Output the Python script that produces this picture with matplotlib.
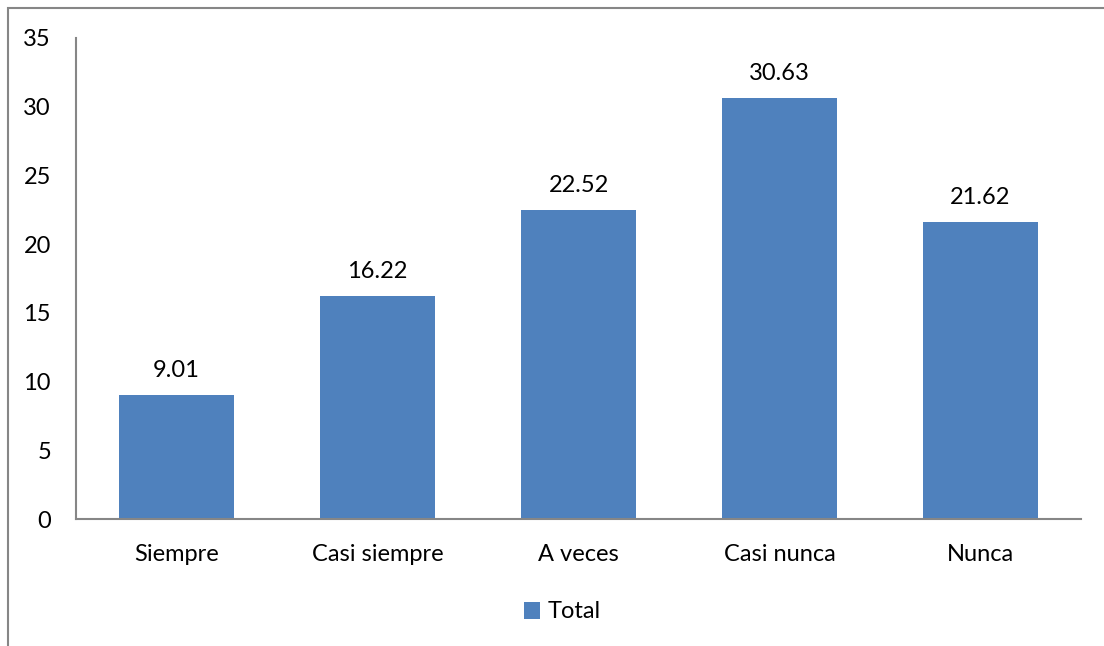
import matplotlib
matplotlib.use("Agg")
import matplotlib.pyplot as plt
from matplotlib.patches import Rectangle

categories = ["Siempre", "Casi siempre", "A veces", "Casi nunca", "Nunca"]
values = [9.01, 16.22, 22.52, 30.63, 21.62]
yticks = [0, 5, 10, 15, 20, 25, 30, 35]
series_name = "Total"

plt.rcParams['font.family'] = ['Lato', 'DejaVu Sans']
W, H = 1104, 646
fig = plt.figure(figsize=(W / 100, H / 100), dpi=100)
ax = fig.add_axes([76 / W, (H - 519) / H, (1081 - 76) / W, (519 - 38) / H])

FS = 17
color = "#4F81BD"
x = list(range(len(categories)))
bars = ax.bar(x, values, width=0.57, color=color, label=series_name)
for xi, v in zip(x, values):
    ax.text(xi, v + 1.0, f"{v:.2f}", ha="center", va="bottom", fontsize=FS, color="#000000")

ax.set_xlim(-0.5, len(categories) - 0.5)
ax.set_ylim(0, 35)
ax.set_yticks(yticks)
ax.set_yticklabels([str(t) for t in yticks], fontsize=FS)
ax.set_xticks(x)
ax.set_xticklabels(categories, fontsize=FS)
ax.tick_params(axis="both", length=0)
ax.tick_params(axis="y", pad=18)
ax.tick_params(axis="x", pad=18)
for s in ["top", "right"]:
    ax.spines[s].set_visible(False)
for s in ["left", "bottom"]:
    ax.spines[s].set_color("#868686")
    ax.spines[s].set_linewidth(1.5)

leg = fig.legend(handles=[bars], labels=[series_name], loc="center",
                 bbox_to_anchor=(562 / W, (H - 612) / H), frameon=False,
                 fontsize=FS, handlelength=0.7, handleheight=0.7, handletextpad=0.3)

fig.patches.append(Rectangle((7.5 / W, -0.1), 1.2, (H - 8) / H + 0.1, transform=fig.transFigure,
                             fill=False, edgecolor="#868686", linewidth=1.5))

fig.savefig("out.png", dpi=100)
